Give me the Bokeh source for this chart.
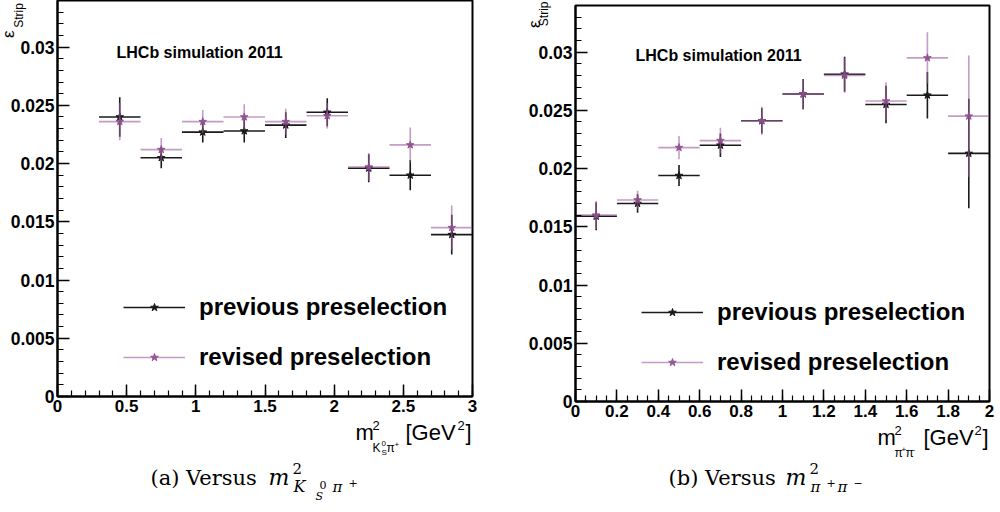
import numpy as np
from bokeh.plotting import figure
from bokeh.models import Range1d, FixedTicker, Label, Legend, LegendItem, Title
from bokeh.layouts import row, column
from bokeh.embed import file_html
from bokeh.resources import INLINE

# ---------------- data ----------------
# (a) versus m^2(KS pi+) : bin edges in GeV^2
kpi_edges = [0.3, 0.6, 0.9, 1.2, 1.5, 1.8, 2.1, 2.4, 2.7, 3.0]
kpi_prev = [0.0240, 0.0205, 0.0227, 0.0228, 0.0233, 0.0244, 0.0196, 0.0190, 0.0139]
kpi_prev_err = [0.0017, 0.0009, 0.0009, 0.0010, 0.0011, 0.0012, 0.0012, 0.0013, 0.0017]
kpi_rev = [0.0236, 0.0212, 0.0236, 0.0240, 0.0236, 0.0241, 0.0197, 0.0216, 0.0145]
kpi_rev_err = [0.0016, 0.0010, 0.0010, 0.0011, 0.0011, 0.0011, 0.0012, 0.0015, 0.0019]

# (b) versus m^2(pi+ pi-) : bin edges in GeV^2
pipi_edges = [0.0, 0.2, 0.4, 0.6, 0.8, 1.0, 1.2, 1.4, 1.6, 1.8, 2.0]
pipi_prev = [0.0159, 0.0170, 0.0194, 0.0220, 0.0241, 0.0264, 0.0281, 0.0255, 0.0263, 0.0213]
pipi_prev_err = [0.0012, 0.0008, 0.0009, 0.0010, 0.0011, 0.0013, 0.0015, 0.0016, 0.0020, 0.0047]
pipi_rev = [0.0160, 0.0173, 0.0218, 0.0224, 0.0241, 0.0264, 0.0280, 0.0258, 0.0295, 0.0245]
pipi_rev_err = [0.0012, 0.0008, 0.0010, 0.0011, 0.0012, 0.0013, 0.0015, 0.0016, 0.0022, 0.0052]

series_names = ["previous preselection", "revised preselection"]

y_ticks = [0, 0.005, 0.01, 0.015, 0.02, 0.025, 0.03]
y_tick_labels = ["0", "0.005", "0.01", "0.015", "0.02", "0.025", "0.03"]
kpi_x_ticks = [0, 0.5, 1, 1.5, 2, 2.5, 3]
kpi_x_tick_labels = ["0", "0.5", "1", "1.5", "2", "2.5", "3"]
pipi_x_ticks = [0, 0.2, 0.4, 0.6, 0.8, 1, 1.2, 1.4, 1.6, 1.8, 2]
pipi_x_tick_labels = ["0", "0.2", "0.4", "0.6", "0.8", "1", "1.2", "1.4", "1.6", "1.8", "2"]

BLACK = "#1a1a1a"
PURPLE = "#9c5a9c"
STAR_PURPLE = "#8c4f8c"
SANS = "Liberation Sans"
SERIF = "DejaVu Serif"
NBSP = "\u00a0"
BASE_SHIFT = 0.35   # Label anchor correction (fraction of font size)


def make_panel(width, height, mb_left, mb_right, mb_top, mb_bottom, x_end, y_end,
               xt, xtl, x_minor, edges, prev, prev_err, rev, rev_err,
               strip_standoff, strip_pad, eps_standoff, eps_offset):
    p = figure(width=width, height=height, output_backend="svg",
               toolbar_location=None, title=None,
               x_range=Range1d(0, x_end), y_range=Range1d(0, y_end),
               min_border_left=mb_left, min_border_right=mb_right,
               min_border_top=mb_top, min_border_bottom=mb_bottom)
    p.grid.visible = False
    p.outline_line_color = "black"
    p.outline_line_width = 2
    p.background_fill_color = "white"
    p.border_fill_color = "white"

    p.xaxis.ticker = FixedTicker(ticks=xt, minor_ticks=list(x_minor))
    p.xaxis.major_label_overrides = {t: l for t, l in zip(xt, xtl)}
    p.yaxis.ticker = FixedTicker(ticks=y_ticks,
                                 minor_ticks=list(np.round(np.arange(0, 0.0341, 0.001), 4)))
    p.yaxis.major_label_overrides = {t: l for t, l in zip(y_ticks, y_tick_labels)}
    for ax in (p.xaxis, p.yaxis):
        ax.axis_line_width = 2
        ax.axis_line_color = "black"
        ax.major_tick_in = 12
        ax.major_tick_out = 0
        ax.minor_tick_in = 6
        ax.minor_tick_out = 0
        ax.major_tick_line_width = 1.5
        ax.minor_tick_line_width = 1.2
        ax.major_label_text_font = SANS
        ax.major_label_text_font_style = "bold"
        ax.major_label_text_color = "black"
        ax.major_label_standoff = 3
    p.xaxis.major_label_text_font_size = "17px"
    p.yaxis.major_label_text_font_size = "17.5px"

    # y-axis title  epsilon_Strip : subscript "Strip" = axis label at the top end,
    # epsilon = side title on the left
    yax = p.yaxis[0]
    yax.axis_label = "Strip" + NBSP * strip_pad
    if hasattr(yax, "axis_label_align"):
        yax.axis_label_align = "end"
    yax.axis_label_standoff = strip_standoff
    yax.axis_label_text_font = SANS
    yax.axis_label_text_font_size = "12px"
    yax.axis_label_text_font_style = "normal"
    yax.axis_label_text_color = "black"
    p.add_layout(Title(text="ε", align="right", vertical_align="bottom",
                       offset=eps_offset, standoff=eps_standoff,
                       text_font=SANS, text_font_size="17px", text_font_style="normal",
                       text_color="black"), "left")

    e = np.array(edges)
    lo, hi = e[:-1], e[1:]
    c = (lo + hi) / 2
    rendered = []
    for vals, errs, col, scol, alpha in ((prev, prev_err, BLACK, BLACK, 1.0),
                                         (rev, rev_err, PURPLE, STAR_PURPLE, 0.6)):
        v = np.array(vals)
        er = np.array(errs)
        h = p.segment(x0=lo, y0=v, x1=hi, y1=v, line_color=col, line_width=1.6, line_alpha=alpha)
        p.segment(x0=c, y0=v - er, x1=c, y1=v + er, line_color=col, line_width=1.6,
                  line_alpha=alpha)
        s = p.scatter(x=c, y=v, marker="star", size=8, fill_color=scol, line_color=scol,
                      fill_alpha=min(1, alpha + 0.3), line_alpha=min(1, alpha + 0.3))
        rendered.append((h, s))

    legend = Legend(items=[LegendItem(label=series_names[i], renderers=list(rendered[i]))
                           for i in range(2)],
                    location=(66, 25), glyph_width=62, glyph_height=20, label_height=20,
                    label_standoff=14, spacing=22, padding=0, margin=0,
                    border_line_color=None, background_fill_alpha=0,
                    label_text_font=SANS, label_text_font_style="bold",
                    label_text_font_size="24px", label_text_color="black")
    p.add_layout(legend)
    return p


def caption_fig(width, height):
    c = figure(width=width, height=height, output_backend="svg", toolbar_location=None,
               title=None, x_range=Range1d(0, width), y_range=Range1d(0, height),
               x_axis_type=None, y_axis_type=None,
               min_border_left=0, min_border_right=0, min_border_top=0, min_border_bottom=0)
    c.grid.visible = False
    c.outline_line_color = None
    c.background_fill_color = "white"
    c.border_fill_color = "white"
    return c


def put(c, left, top, px, py, s, size, font=SANS, style="normal"):
    c.add_layout(Label(x=px - left, y=c.height - (py - BASE_SHIFT * size - top),
                       x_units="screen", y_units="screen",
                       text=s, text_font=font, text_font_size=f"{size}px",
                       text_font_style=style, text_align="left",
                       text_baseline="alphabetic", text_color="black"))


def put_in_frame(p, fl, fb, px, py, s, size, style="normal"):
    p.add_layout(Label(x=px - fl, y=fb - (py - BASE_SHIFT * size), x_units="screen",
                       y_units="screen", text=s,
                       text_font=SANS, text_font_size=f"{size}px", text_font_style=style,
                       text_align="left", text_baseline="alphabetic", text_color="black"))


# ---------- panel (a) ----------
HA = 419
pa = make_panel(500, HA, 57, 28, 0, HA - 396, 3, 0.034, kpi_x_ticks, kpi_x_tick_labels,
                np.round(np.arange(0, 3.01, 0.1), 2), kpi_edges,
                kpi_prev, kpi_prev_err, kpi_rev, kpi_rev_err,
                strip_standoff=-18, strip_pad=9, eps_standoff=-19, eps_offset=30)
put_in_frame(pa, 57, 396, 116, 57.5, "LHCb simulation 2011", 16, style="bold")

# ---------- panel (b) ----------
HB = 424
pb = make_panel(500, HB, 75, 11, 5, HB - 401, 2, 0.034, pipi_x_ticks, pipi_x_tick_labels,
                np.round(np.arange(0, 2.01, 0.05), 2), pipi_edges,
                pipi_prev, pipi_prev_err, pipi_rev, pipi_rev_err,
                strip_standoff=-25, strip_pad=5, eps_standoff=-20, eps_offset=15)
put_in_frame(pb, 575, 401, 635, 61, "LHCb simulation 2011", 16, style="bold")

ca = caption_fig(500, 512 - HA)
cb = caption_fig(500, 512 - HB)
if hasattr(ca, "frame_align"):
    for f in (pa, pb, ca, cb):
        f.frame_align = False
    LA, LB = 0, 500
else:
    ca.min_border_left, ca.min_border_right = 57, 28
    cb.min_border_left, cb.min_border_right = 75, 11
    LA, LB = 57, 575

dy = 7
put(ca, LA, HA, 355, 433 + dy, "m", 22)
put(ca, LA, HA, 372, 423 + dy, "2", 13)
put(ca, LA, HA, 372, 445 + dy, "K", 12)
put(ca, LA, HA, 381, 439 + dy, "0", 8)
put(ca, LA, HA, 381, 448 + dy, "S", 8)
put(ca, LA, HA, 386, 445 + dy, "π", 12)
put(ca, LA, HA, 394, 440 + dy, "+", 8)
put(ca, LA, HA, 405, 433 + dy, "[GeV", 22)
put(ca, LA, HA, 457, 423 + dy, "2", 13)
put(ca, LA, HA, 465, 433 + dy, "]", 22)
put(ca, LA, HA, 150, 485, "(a) Versus", 21, font=SERIF)
put(ca, LA, HA, 268, 485, "m", 22, font=SERIF, style="italic")
put(ca, LA, HA, 292, 473, "2", 15, font=SERIF)
put(ca, LA, HA, 293, 492, "K", 16, font=SERIF, style="italic")
put(ca, LA, HA, 319, 488, "0", 11, font=SERIF)
put(ca, LA, HA, 315, 500, "S", 11, font=SERIF, style="italic")
put(ca, LA, HA, 332, 492, "π", 15, font=SERIF, style="italic")
put(ca, LA, HA, 348, 486, "+", 11, font=SERIF)

dy = 12
put(cb, LB, HB, 877, 433 + dy, "m", 22)
put(cb, LB, HB, 894, 423 + dy, "2", 13)
put(cb, LB, HB, 894, 445 + dy, "π", 12)
put(cb, LB, HB, 901, 440 + dy, "+", 8)
put(cb, LB, HB, 905, 445 + dy, "π", 12)
put(cb, LB, HB, 912, 440 + dy, "-", 8)
put(cb, LB, HB, 923, 433 + dy, "[GeV", 22)
put(cb, LB, HB, 974, 423 + dy, "2", 13)
put(cb, LB, HB, 982, 433 + dy, "]", 22)
put(cb, LB, HB, 668, 485, "(b) Versus", 21, font=SERIF)
put(cb, LB, HB, 785, 485, "m", 22, font=SERIF, style="italic")
put(cb, LB, HB, 809, 473, "2", 15, font=SERIF)
put(cb, LB, HB, 810, 492, "π", 15, font=SERIF, style="italic")
put(cb, LB, HB, 826, 486, "+", 11, font=SERIF)
put(cb, LB, HB, 837, 492, "π", 15, font=SERIF, style="italic")
put(cb, LB, HB, 853, 486, "−", 11, font=SERIF)

layout = row(column(pa, ca), column(pb, cb))
open("out.html", "w").write(file_html(layout, INLINE))
